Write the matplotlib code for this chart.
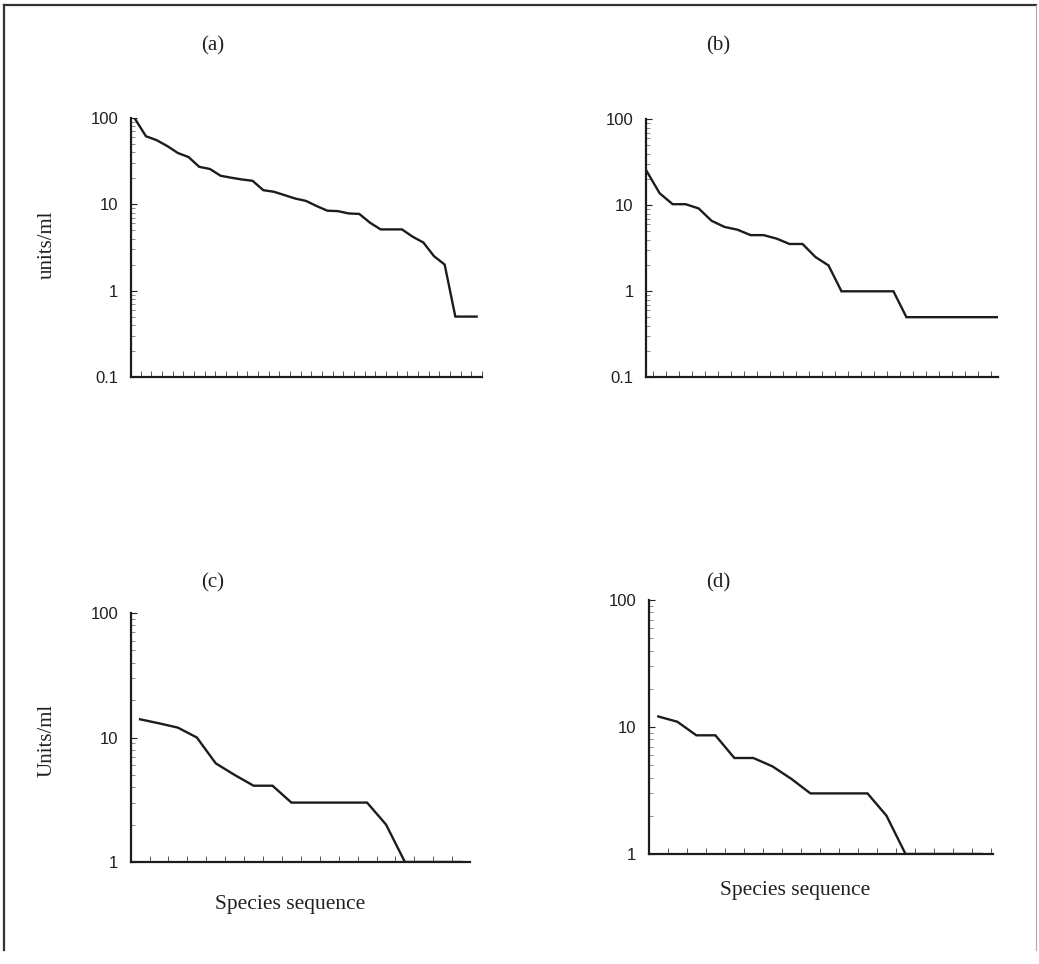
import matplotlib
matplotlib.use("Agg")
import matplotlib.pyplot as plt
from matplotlib.ticker import FixedLocator, LogLocator, NullFormatter, FixedFormatter
import numpy as np

# ---- data (abundance per species, ranked) ----
vals_a = [96, 61, 55, 47, 39, 35, 27, 25.5, 21.3, 20.2, 19.3, 18.6, 14.5, 13.9,
          12.7, 11.6, 10.9, 9.5, 8.4, 8.3, 7.8, 7.7, 6.1, 5.1, 5.1, 5.1, 4.2,
          3.6, 2.5, 2.0, 0.5, 0.5, 0.5]
vals_b = [25, 13.8, 10.3, 10.3, 9.2, 6.6, 5.6, 5.2, 4.5, 4.5, 4.1, 3.55, 3.55,
          2.5, 2.0, 1.0, 1.0, 1.0, 1.0, 1.0, 0.5, 0.5, 0.5, 0.5, 0.5, 0.5, 0.5, 0.5]
vals_c = [14, 13, 12, 10, 6.2, 5, 4.1, 4.1, 3, 3, 3, 3, 3, 2, 1, 1, 1, 1]
vals_d = [12.1, 11, 8.6, 8.6, 5.7, 5.7, 4.9, 3.9, 3, 3, 3, 3, 2, 1, 1, 1, 1, 1]

panel_titles = ["(a)", "(b)", "(c)", "(d)"]
ylabel_top = "units/ml"
ylabel_bottom = "Units/ml"
xlabel = "Species sequence"
yticks_top = [0.1, 1, 10, 100]
yticklabels_top = ["0.1", "1", "10", "100"]
yticks_bottom = [1, 10, 100]
yticklabels_bottom = ["1", "10", "100"]

W, H = 1039, 964
fig = plt.figure(figsize=(W / 100, H / 100), dpi=100)
fig.patch.set_facecolor("white")

LINE = "#1c1c1c"
TXT = "#202020"
SANS = "Liberation Sans"
SERIF = "Liberation Serif"


def px_axes(left, right, top, bottom):
    return fig.add_axes([left / W, 1 - bottom / H, (right - left) / W, (bottom - top) / H])


def style(ax, vals, xlim, ylim, ticks, labels):
    x = np.arange(len(vals))
    ax.plot(x, vals, color=LINE, lw=1.7, solid_joinstyle="miter")
    ax.set_yscale("log")
    ax.set_ylim(*ylim)
    ax.set_xlim(*xlim)
    for s in ("top", "right"):
        ax.spines[s].set_visible(False)
    for s in ("left", "bottom"):
        ax.spines[s].set_color(LINE)
        ax.spines[s].set_linewidth(1.6)
    ax.yaxis.set_major_locator(FixedLocator(ticks))
    ax.yaxis.set_major_formatter(FixedFormatter(labels))
    ax.yaxis.set_minor_locator(LogLocator(base=10, subs=np.arange(2, 10)))
    ax.yaxis.set_minor_formatter(NullFormatter())
    ax.tick_params(axis="y", which="major", direction="in", length=4, width=0.8,
                   colors=TXT, labelsize=12, pad=9)
    ax.tick_params(axis="y", which="minor", direction="in", length=3, width=0.6,
                   color="#777777")
    for t in ax.get_yticklabels():
        t.set_fontfamily(SANS)
    ax.xaxis.set_major_locator(FixedLocator([]))
    ax.xaxis.set_minor_locator(FixedLocator(np.arange(len(vals)) + 0.5))
    ax.tick_params(axis="x", which="minor", direction="in", length=4, width=0.7,
                   color="#555555")
    ax.tick_params(axis="x", which="major", labelbottom=False)
    ax.set_facecolor("none")


ax_a = px_axes(131, 482, 117.7, 377)
style(ax_a, vals_a, (-0.4, 32.5), (0.1, 100), yticks_top, yticklabels_top)

ax_b = px_axes(646, 998, 119.3, 377.3)
style(ax_b, vals_b, (-0.05, 27.05), (0.1, 100), yticks_top, yticklabels_top)

ax_c = px_axes(131, 470, 613, 862)
style(ax_c, vals_c, (-0.48, 17.44), (1, 100), yticks_bottom, yticklabels_bottom)

ax_d = px_axes(649, 993, 600, 854)
style(ax_d, vals_d, (-0.49, 17.6), (1, 100), yticks_bottom, yticklabels_bottom)


def ftext(x, y, s, **kw):
    fig.text(x / W, 1 - y / H, s, color=TXT, family=SERIF, ha="center", va="center", **kw)


ftext(213, 46, panel_titles[0], fontsize=15)
ftext(718, 46, panel_titles[1], fontsize=15)
ftext(213, 583, panel_titles[2], fontsize=15)
ftext(718, 583, panel_titles[3], fontsize=15)

ftext(47, 245, ylabel_top, fontsize=15, rotation=90)
ftext(47, 740, ylabel_bottom, fontsize=15, rotation=90)
ftext(290, 905, xlabel, fontsize=15.5)
ftext(795, 891, xlabel, fontsize=15.5)

# outer frame (left and top edges visible in the scan)
fig.add_artist(plt.Line2D([4 / W, 4 / W], [1 - 5 / H, 1 - 950 / H], color="#333333", lw=1.6))
fig.add_artist(plt.Line2D([4 / W, 1036 / W], [1 - 5 / H, 1 - 5 / H], color="#333333", lw=1.6))
fig.add_artist(plt.Line2D([1036 / W, 1036 / W], [1 - 5 / H, 1 - 950 / H], color="#aaaaaa", lw=0.8))

fig.savefig("out.png", dpi=100, facecolor="white")
